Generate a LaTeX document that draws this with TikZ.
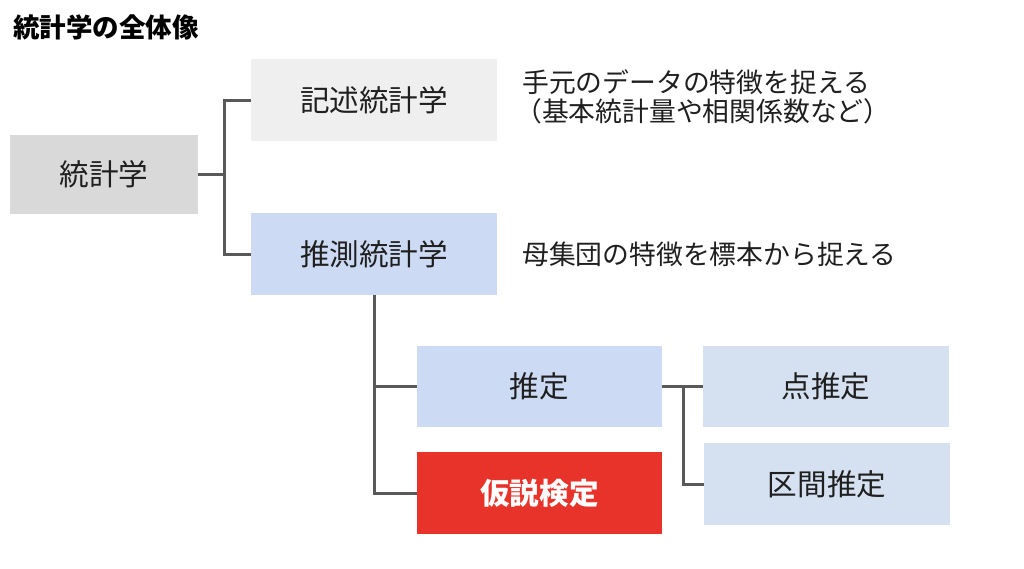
\documentclass[tikz,border=0pt]{standalone}
\usepackage{fontspec}
\setmainfont{Noto Sans CJK JP}
\usepackage{tikz}
\definecolor{rootgray}{HTML}{D9D9D9}
\definecolor{descgray}{HTML}{EFEFEF}
\definecolor{infblue}{HTML}{CDDAF3}
\definecolor{leafblue}{HTML}{D5E1F0}
\definecolor{testred}{HTML}{E8332A}
\definecolor{linegray}{HTML}{595959}

\begin{document}
\begin{tikzpicture}[x=1pt, y=-1pt,
    box/.style={rectangle, inner sep=0pt, minimum width=246pt, minimum height=81pt,
        font=\fontsize{29.6}{33}\selectfont, text=black!88},
    note/.style={anchor=west, inner sep=0pt, font=\fontsize{26.8}{30}\selectfont, text=black!88},
    conn/.style={draw=linegray, line width=3pt}]
                \useasboundingbox[fill=white] (0, 0) rectangle (1024, 568);
                \node[anchor=west, inner sep=0pt, font=\fontsize{26.5}{30}\selectfont\bfseries] (title) at (13, 27) {統計学の全体像};
                \node[box, fill=rootgray, minimum width=188pt, minimum height=79pt] (stat) at (104, 174.5) {統計学};
                \node[box, fill=descgray, minimum height=82pt] (desc) at (374, 100) {記述統計学};
                \node[box, fill=infblue, minimum height=82pt] (infer) at (374, 254) {推測統計学};
                \node[box, fill=infblue, minimum width=245pt] (est) at (539.5, 386.5) {推定};
                \node[box, fill=testred, minimum width=245pt, minimum height=82pt, text=white, font=\fontsize{29.6}{33}\selectfont\bfseries] (test) at (539.5, 493) {仮説検定};
                \node[box, fill=leafblue] (point) at (826, 386.5) {点推定};
                \node[box, fill=leafblue, minimum height=82pt] (interval) at (827, 484) {区間推定};
                \node[note] (descnote) at (522, 82) {手元のデータの特徴を捉える};
                \node[note] (descnote2) at (515, 111) {（基本統計量や相関係数など）};
                \node[note] (infernote) at (522, 254) {母集団の特徴を標本から捉える};
                \path (stat.east) -- ++(26, 0) coordinate (jstat);
                \path (est.east) -- ++(21, 0) coordinate (jest);
                \draw[conn] (stat.east) -- (jstat);
                \draw[conn] (jstat) |- (desc.west);
                \draw[conn] (jstat) |- (infer.west);
                \draw[conn] (infer.south) |- (est.west);
                \draw[conn] (infer.south) |- (test.west);
                \draw[conn] (est.east) -- (point.west);
                \draw[conn] (jest) |- (interval.west);
            \end{tikzpicture}
\end{document}
